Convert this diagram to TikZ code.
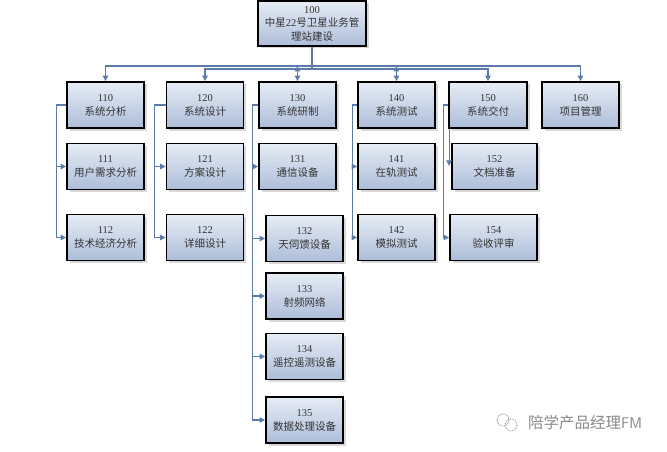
\documentclass[tikz,border=0pt]{standalone}
\usepackage{fontspec}
\setmainfont{Liberation Serif}
\newfontfamily\cjkf{Noto Sans CJK SC}
\usetikzlibrary{arrows.meta,shadows}
\definecolor{connc}{HTML}{5B7BA8}
\definecolor{boxtop}{HTML}{E6ECF5}
\definecolor{boxbot}{HTML}{ADBDD9}
\definecolor{textc}{HTML}{333333}
\definecolor{wmark}{HTML}{8A8A8A}
\begin{document}
\begin{tikzpicture}[x=1pt,y=-1pt,
  box/.style={draw=black, line width=1.8pt, top color=boxtop, bottom color=boxbot,
    minimum width=77pt, minimum height=46pt, inner sep=0pt, align=center,
    font=\fontsize{10.5}{14}\selectfont, text=textc,
    drop shadow={shadow xshift=2.5pt, shadow yshift=-2.5pt, opacity=0.3, fill=gray}},
  link/.style={draw=connc, line width=1.1pt},
  arr/.style={link, -{Triangle[length=5.5pt,width=5.5pt]}},
  darr/.style={link, {Triangle[length=5.5pt,width=5.5pt]}-{Triangle[length=5.5pt,width=5.5pt]}}]
\useasboundingbox[fill=white] (0,0) rectangle (667,452);

% top
\node[box, minimum width=108pt, minimum height=45pt, font=\fontsize{10.5}{13.5}\selectfont] (n100) at (312,23.5)
  {100\\{\cjkf 中星}22{\cjkf 号卫星业务管}\\{\cjkf 理站建设}};

% row 1
\node[box] (n110) at (105.5,105) {110\\{\cjkf 系统分析}};
\node[box] (n120) at (205,105) {120\\{\cjkf 系统设计}};
\node[box] (n130) at (297.5,105) {130\\{\cjkf 系统研制}};
\node[box] (n140) at (396.5,105) {140\\{\cjkf 系统测试}};
\node[box, minimum width=78pt] (n150) at (488,105) {150\\{\cjkf 系统交付}};
\node[box] (n160) at (580.5,105) {160\\{\cjkf 项目管理}};

% row 2
\node[box] (n111) at (105.5,166.5) {111\\{\cjkf 用户需求分析}};
\node[box] (n121) at (205,166.5) {121\\{\cjkf 方案设计}};
\node[box] (n131) at (297.5,166.5) {131\\{\cjkf 通信设备}};
\node[box] (n141) at (396.5,166.5) {141\\{\cjkf 在轨测试}};
\node[box, minimum width=85pt] (n152) at (494.5,166.5) {152\\{\cjkf 文档准备}};

% row 3
\node[box] (n112) at (105.5,237.5) {112\\{\cjkf 技术经济分析}};
\node[box] (n122) at (205,237.5) {122\\{\cjkf 详细设计}};
\node[box] (n132) at (304.5,238.5) {132\\{\cjkf 天伺馈设备}};
\node[box] (n142) at (396.5,237.5) {142\\{\cjkf 模拟测试}};
\node[box, minimum width=87pt] (n154) at (493.5,237.5) {154\\{\cjkf 验收评审}};

% column 130 continued
\node[box] (n133) at (304.5,296) {133\\{\cjkf 射频网络}};
\node[box] (n134) at (304.5,356.5) {134\\{\cjkf 遥控遥测设备}};
\node[box] (n135) at (304.5,420) {135\\{\cjkf 数据处理设备}};

% bus
\coordinate (busA) at (312,66);
\coordinate (busB) at (312,69);
\draw[link] (n100.south) -- (busA);
\draw[arr] (busA) -| (n110.north);
\draw[arr] (busA) -| (n160.north);
\draw[link] (busA) -- (busB);
\draw[arr] (busB) -| (n120.north);
\draw[arr] (busB) -| (n150.north);
\draw[darr] (n130.north |- busA) -- (n130.north);
\draw[darr] (n140.north |- busA) -- (n140.north);

% family 110
\draw[arr] (n110.west) -- ++(-10,0) |- (n111.west);
\draw[arr] (n110.west) -- ++(-10,0) |- (n112.west);
% family 120
\draw[arr] (n120.west) -- ++(-11,0) |- (n121.west);
\draw[arr] (n120.west) -- ++(-11,0) |- (n122.west);
% family 130
\draw[arr] (n130.west) -- ++(-6,0) |- (n131.west);
\draw[arr] (n130.west) -- ++(-6,0) |- (n132.west);
\draw[arr] (n130.west) -- ++(-6,0) |- (n133.west);
\draw[arr] (n130.west) -- ++(-6,0) |- (n134.west);
\draw[arr] (n130.west) -- ++(-6,0) |- (n135.west);
% family 140
\draw[arr] (n140.west) -- ++(-5,0) |- (n141.west);
\draw[arr] (n140.west) -- ++(-5,0) |- (n142.west);
% family 150
\draw[arr] (n150.west) -- ++(-5,0) |- (n154.west);
\draw[arr] ([xshift=1pt]n150.south west) -- ++(0,37);

% watermark
\draw[wmark, densely dotted, line width=0.8pt] (503,420) circle (6);
\draw[wmark, densely dotted, line width=0.8pt] (511,425) circle (6);
\node[anchor=west, text=wmark, inner sep=0pt, font=\fontsize{15.5}{16}\selectfont] (wm) at (528,423)
  {{\cjkf 陪学产品经理}\sffamily FM};
\end{tikzpicture}
\end{document}
